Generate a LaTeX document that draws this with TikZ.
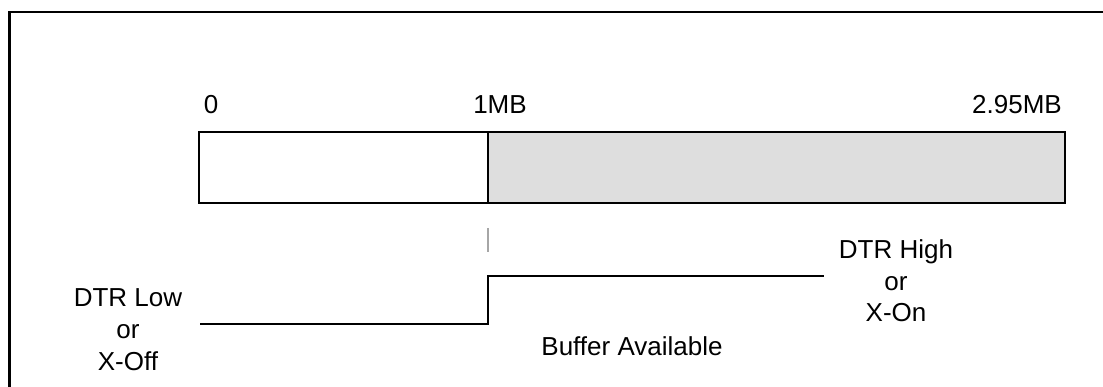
\documentclass[tikz,border=0pt]{standalone}
\usepackage{fontspec}
\setmainfont{Liberation Sans}
\begin{document}
\begin{tikzpicture}[x=1pt,y=-1pt,
  lbl/.style={inner sep=0pt,outer sep=0pt,anchor=base,align=center,font=\fontsize{26}{31.5}\selectfont},
  barpart/.style={draw=black,line width=2.6pt,inner sep=0pt,outer sep=0pt,anchor=north west,minimum height=71pt},
  sig/.style={line width=2.4pt,line join=miter}
]
\useasboundingbox (0,0) rectangle (1103,387);
% frame
\coordinate (ftr) at (1103,12);
\coordinate (ftl) at (9.5,12);
\coordinate (fbl) at (9.5,387);
\draw[line width=2.8pt] (ftr) -- (ftl) -- (fbl);
% bar
\node[barpart,fill=white,minimum width=289pt] (free) at (199,132) {};
\node[barpart,fill=black!13,minimum width=577pt] (used) at (488,132) {};
\draw[line width=2.6pt] (free.north west) rectangle (used.south east);
% labels
\node[lbl] (l0) at (211,114) {0};
\node[lbl] (l1) at (500,114) {1MB};
\node[lbl] (l2) at (1017,114) {2.95MB};
% tick
\coordinate (t1) at (488,228);
\coordinate (t2) at (488,252);
\draw[gray!70,line width=1.4pt] (t1) -- (t2);
% signal
\coordinate (s0) at (200,324);
\coordinate (s1) at (488,324);
\coordinate (s2) at (488,276);
\coordinate (s3) at (824,276);
\draw[sig] (s0) -- (s1) -- (s2) -- (s3);
\node[lbl] (low) at (128,370) {DTR Low\\or\\X-Off};
\node[lbl] (high) at (896,322) {DTR High\\or\\X-On};
\node[lbl] (buf) at (632,355) {Buffer Available};
\end{tikzpicture}
\end{document}
